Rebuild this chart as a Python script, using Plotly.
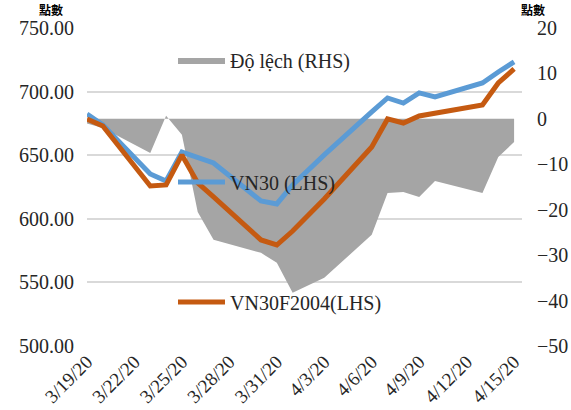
import plotly.graph_objects as go

# ---- data ----
dates = ["2020-03-19", "2020-03-20", "2020-03-23", "2020-03-24", "2020-03-25",
         "2020-03-26", "2020-03-27", "2020-03-30", "2020-03-31", "2020-04-01",
         "2020-04-03", "2020-04-06", "2020-04-07", "2020-04-08", "2020-04-09",
         "2020-04-10", "2020-04-13", "2020-04-14", "2020-04-15"]
vn30 = [682.4, 673.8, 635.2, 629.7, 652.5, 648.6, 643.9, 614.0, 611.7, 626.6,
        650.2, 684.0, 695.0, 691.0, 699.0, 695.8, 706.8, 715.4, 723.3]
vn30f = [678.5, 673.0, 625.8, 626.6, 650.2, 628.2, 617.2, 583.4, 579.4, 590.4,
         615.6, 656.5, 678.5, 675.3, 680.8, 683.2, 689.5, 706.8, 717.8]
diff = [-1.0, -2.0, -7.5, 0.7, -3.5, -20.5, -26.6, -29.5, -31.7, -38.3,
        -35.0, -25.5, -16.3, -16.1, -17.2, -13.7, -16.3, -8.4, -5.1]

tick_dates = ["2020-03-19", "2020-03-22", "2020-03-25", "2020-03-28", "2020-03-31",
              "2020-04-03", "2020-04-06", "2020-04-09", "2020-04-12", "2020-04-15"]
tick_labels = ["3/19/20", "3/22/20", "3/25/20", "3/28/20", "3/31/20",
               "4/3/20", "4/6/20", "4/9/20", "4/12/20", "4/15/20"]

left_ticks = [500, 550, 600, 650, 700, 750]
right_ticks = [-50, -40, -30, -20, -10, 0, 10, 20]

SERIF = "Liberation Serif, Times New Roman, serif"
TXT = "#262626"

fig = go.Figure()

fig.add_trace(go.Scatter(
    x=dates, y=diff, name="Độ lệch (RHS)", mode="lines",
    fill="tozeroy", fillcolor="#a5a5a5", line=dict(width=0, color="#a5a5a5"),
    yaxis="y", legend="legend", showlegend=True, hoverinfo="skip"))

fig.add_trace(go.Scatter(
    x=dates, y=vn30, name="VN30 (LHS)", mode="lines",
    line=dict(color="#5b9bd5", width=5), yaxis="y2", legend="legend2"))

fig.add_trace(go.Scatter(
    x=dates, y=vn30f, name="VN30F2004(LHS)", mode="lines",
    line=dict(color="#c55a11", width=5), yaxis="y2", legend="legend3"))

leg_common = dict(bgcolor="rgba(0,0,0,0)", font=dict(family=SERIF, size=20, color=TXT),
                  xanchor="left", yanchor="middle", borderwidth=0, visible=True,
                  itemwidth=47)

fig.update_layout(
    width=571, height=410,
    margin=dict(l=87, r=49, t=28, b=64),
    paper_bgcolor="white", plot_bgcolor="white",
    showlegend=True,
    xaxis=dict(type="date", range=["2020-03-19", "2020-04-15 12:00"],
               tickvals=tick_dates, ticktext=tick_labels, tickangle=-45,
               tickfont=dict(family=SERIF, size=19, color=TXT), automargin=False,
               showgrid=False, zeroline=False, showline=False, ticks=""),
    yaxis=dict(side="right", range=[-50, 20], tickvals=right_ticks,
               tickfont=dict(family=SERIF, size=20, color=TXT), automargin=False,
               showgrid=False, zeroline=False, ticklabelstandoff=14),
    yaxis2=dict(side="left", overlaying="y", range=[500, 750], tickvals=left_ticks,
                tickformat=".2f", tickfont=dict(family=SERIF, size=20, color=TXT),
                automargin=False,
                showgrid=True, gridcolor="#d9d9d9", gridwidth=1.5, zeroline=False,
                ticklabelstandoff=12),
    legend=dict(x=(173 - 87) / 435, y=(346 - 60) / 318, **leg_common),
    legend2=dict(x=(173 - 87) / 435, y=(346 - 182) / 318, **leg_common),
    legend3=dict(x=(173 - 87) / 435, y=(346 - 302) / 318, **leg_common),
    annotations=[
        dict(text="<b>點數</b>", xref="paper", yref="paper", x=(51 - 87) / 435,
             y=1.0 + 28 / 318, xanchor="center", yanchor="top", showarrow=False,
             borderpad=0, font=dict(family="Noto Sans CJK TC", size=12, color="black")),
        dict(text="<b>點數</b>", xref="paper", yref="paper", x=(533 - 87) / 435,
             y=1.0 + 28 / 318, xanchor="center", yanchor="top", showarrow=False,
             borderpad=0, font=dict(family="Noto Sans CJK TC", size=12, color="black")),
    ],
)

fig.write_html("out.html", config={"displayModeBar": False},
               post_script="document.body.style.margin='0px';")
